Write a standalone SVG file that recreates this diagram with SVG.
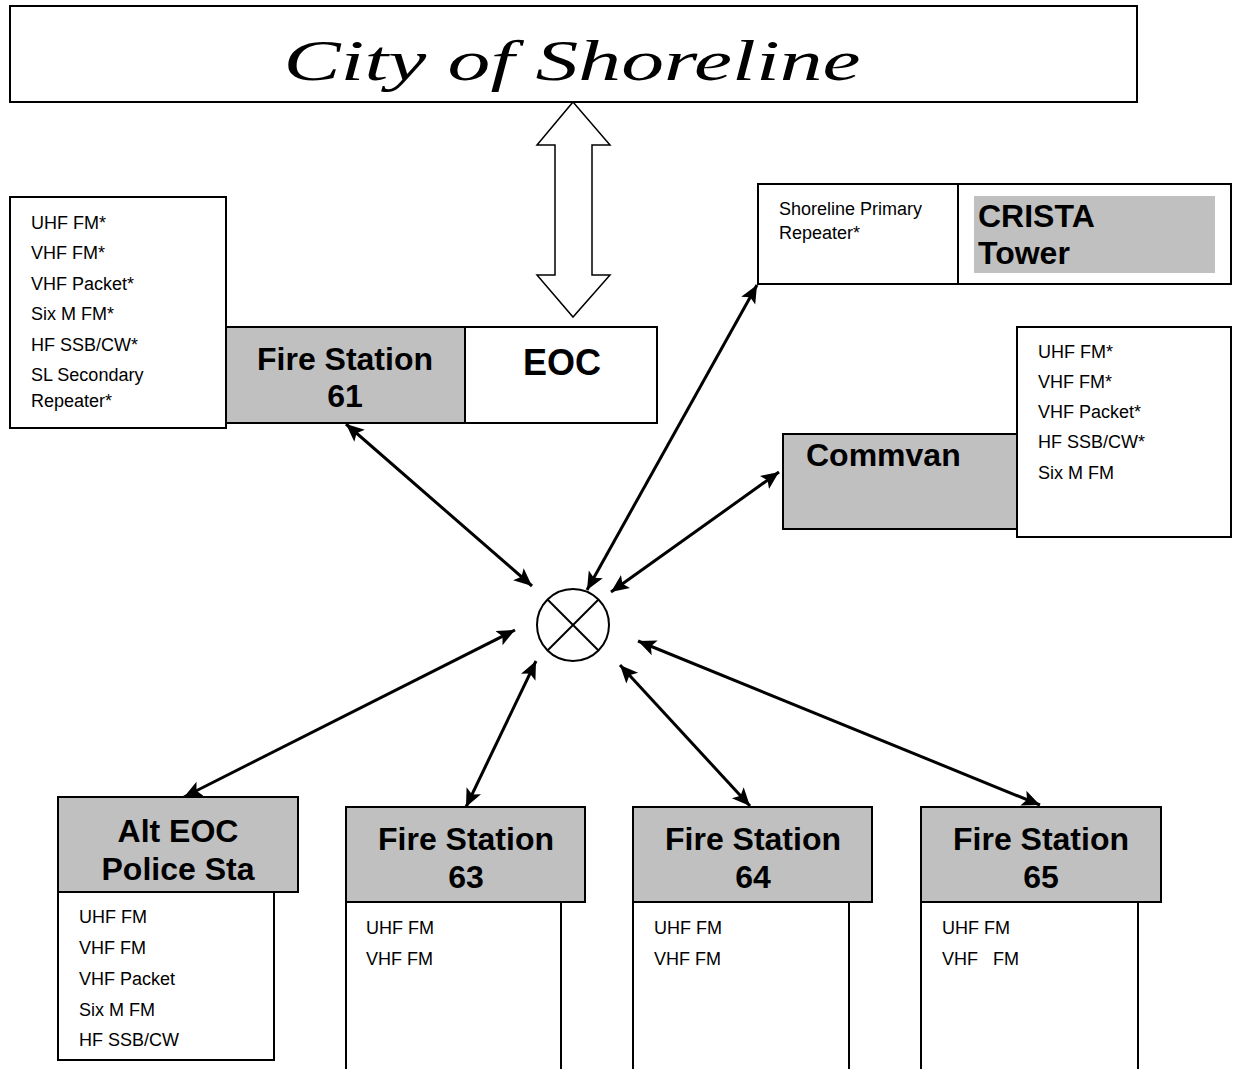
<svg xmlns="http://www.w3.org/2000/svg" width="1233" height="1069" viewBox="0 0 1233 1069">
<defs>
<style>
.box{fill:#fff;stroke:#000;stroke-width:2}
.gray{fill:#c0c0c0;stroke:#000;stroke-width:2}
.lst{font-family:"Liberation Sans",Arial,sans-serif;font-size:18px;fill:#000}
.hd{font-family:"Liberation Sans",Arial,sans-serif;font-size:32px;font-weight:bold;fill:#000}
.conn{stroke:#000;stroke-width:3;fill:none;marker-start:url(#ah);marker-end:url(#ah)}
</style>
<marker id="ah" markerUnits="userSpaceOnUse" markerWidth="22" markerHeight="18" refX="18" refY="8" orient="auto-start-reverse" viewBox="0 0 22 18">
<path d="M0,0 L18,8 L0,16 L4,8 z" fill="#000"/>
</marker>
</defs>
<rect width="1233" height="1069" fill="#fff"/>

<g id="city">
<rect class="box" x="10" y="6" width="1127" height="96"/>
<text x="572" y="80" text-anchor="middle" font-family="Liberation Serif,serif" font-style="italic" font-size="58" textLength="577" lengthAdjust="spacingAndGlyphs">City of Shoreline</text>
</g>

<g id="bigarrow">
<polygon points="573,102 610,145 592,145 592,275 610,275 573,317 537,275 555,275 555,145 537,145" fill="#fff" stroke="#000" stroke-width="1.5"/>
</g>

<g id="fs61list">
<rect class="box" x="10" y="197" width="216" height="231"/>
<text class="lst" x="31" y="229">UHF FM*</text>
<text class="lst" x="31" y="259">VHF FM*</text>
<text class="lst" x="31" y="290">VHF Packet*</text>
<text class="lst" x="31" y="320">Six M FM*</text>
<text class="lst" x="31" y="351">HF SSB/CW*</text>
<text class="lst" x="31" y="381">SL Secondary</text>
<text class="lst" x="31" y="407">Repeater*</text>
</g>

<g id="fs61">
<rect class="gray" x="226" y="327" width="239" height="96"/>
<text class="hd" x="345" y="370" text-anchor="middle">Fire Station</text>
<text class="hd" x="345" y="407" text-anchor="middle">61</text>
</g>

<g id="eoc">
<rect class="box" x="465" y="327" width="192" height="96"/>
<text x="562" y="375" text-anchor="middle" font-family="Liberation Sans,Arial,sans-serif" font-weight="bold" font-size="36">EOC</text>
</g>

<g id="crista">
<rect class="box" x="758" y="184" width="473" height="100"/>
<line x1="958" y1="184" x2="958" y2="284" stroke="#000" stroke-width="2"/>
<text class="lst" x="779" y="215">Shoreline Primary</text>
<text class="lst" x="779" y="239">Repeater*</text>
<rect x="974" y="196" width="241" height="77" fill="#c0c0c0"/>
<text class="hd" x="978" y="227">CRISTA</text>
<text class="hd" x="978" y="264">Tower</text>
</g>

<g id="commvan">
<rect class="gray" x="783" y="434" width="234" height="95"/>
<text class="hd" x="806" y="466">Commvan</text>
<rect class="box" x="1017" y="327" width="214" height="210"/>
<text class="lst" x="1038" y="358">UHF FM*</text>
<text class="lst" x="1038" y="388">VHF FM*</text>
<text class="lst" x="1038" y="418">VHF Packet*</text>
<text class="lst" x="1038" y="448">HF SSB/CW*</text>
<text class="lst" x="1038" y="479">Six M FM</text>
</g>

<g id="hub">
<circle cx="573" cy="625" r="36" fill="#fff" stroke="#000" stroke-width="2"/>
<line x1="547.5" y1="599.5" x2="598.5" y2="650.5" stroke="#000" stroke-width="2"/>
<line x1="598.5" y1="599.5" x2="547.5" y2="650.5" stroke="#000" stroke-width="2"/>
</g>

<g id="connectors">
<line class="conn" x1="346" y1="424" x2="532" y2="586"/>
<line class="conn" x1="757" y1="285" x2="587" y2="590"/>
<line class="conn" x1="779" y1="472" x2="611" y2="592"/>
<line class="conn" x1="515" y1="630" x2="184" y2="797"/>
<line class="conn" x1="536" y1="661" x2="466" y2="807"/>
<line class="conn" x1="620" y1="665" x2="750" y2="806"/>
<line class="conn" x1="638" y1="641" x2="1040" y2="805"/>
</g>

<g id="alteoc">
<rect class="box" x="58" y="892" width="216" height="168"/>
<rect class="gray" x="58" y="797" width="240" height="95"/>
<text class="hd" x="178" y="842" text-anchor="middle">Alt EOC</text>
<text class="hd" x="178" y="880" text-anchor="middle">Police Sta</text>
<text class="lst" x="79" y="923">UHF FM</text>
<text class="lst" x="79" y="954">VHF FM</text>
<text class="lst" x="79" y="985">VHF Packet</text>
<text class="lst" x="79" y="1016">Six M FM</text>
<text class="lst" x="79" y="1046">HF SSB/CW</text>
</g>

<g id="fs63">
<path d="M346,1070 V902 H561 V1070" class="box"/>
<rect class="gray" x="346" y="807" width="239" height="95"/>
<text class="hd" x="466" y="850" text-anchor="middle">Fire Station</text>
<text class="hd" x="466" y="888" text-anchor="middle">63</text>
<text class="lst" x="366" y="934">UHF FM</text>
<text class="lst" x="366" y="965">VHF FM</text>
</g>

<g id="fs64">
<path d="M633,1070 V902 H849 V1070" class="box"/>
<rect class="gray" x="633" y="807" width="239" height="95"/>
<text class="hd" x="753" y="850" text-anchor="middle">Fire Station</text>
<text class="hd" x="753" y="888" text-anchor="middle">64</text>
<text class="lst" x="654" y="934">UHF FM</text>
<text class="lst" x="654" y="965">VHF FM</text>
</g>

<g id="fs65">
<path d="M921,1070 V902 H1138 V1070" class="box"/>
<rect class="gray" x="921" y="807" width="240" height="95"/>
<text class="hd" x="1041" y="850" text-anchor="middle">Fire Station</text>
<text class="hd" x="1041" y="888" text-anchor="middle">65</text>
<text class="lst" x="942" y="934">UHF FM</text>
<text class="lst" x="942" y="965" xml:space="preserve">VHF   FM</text>
</g>
</svg>
